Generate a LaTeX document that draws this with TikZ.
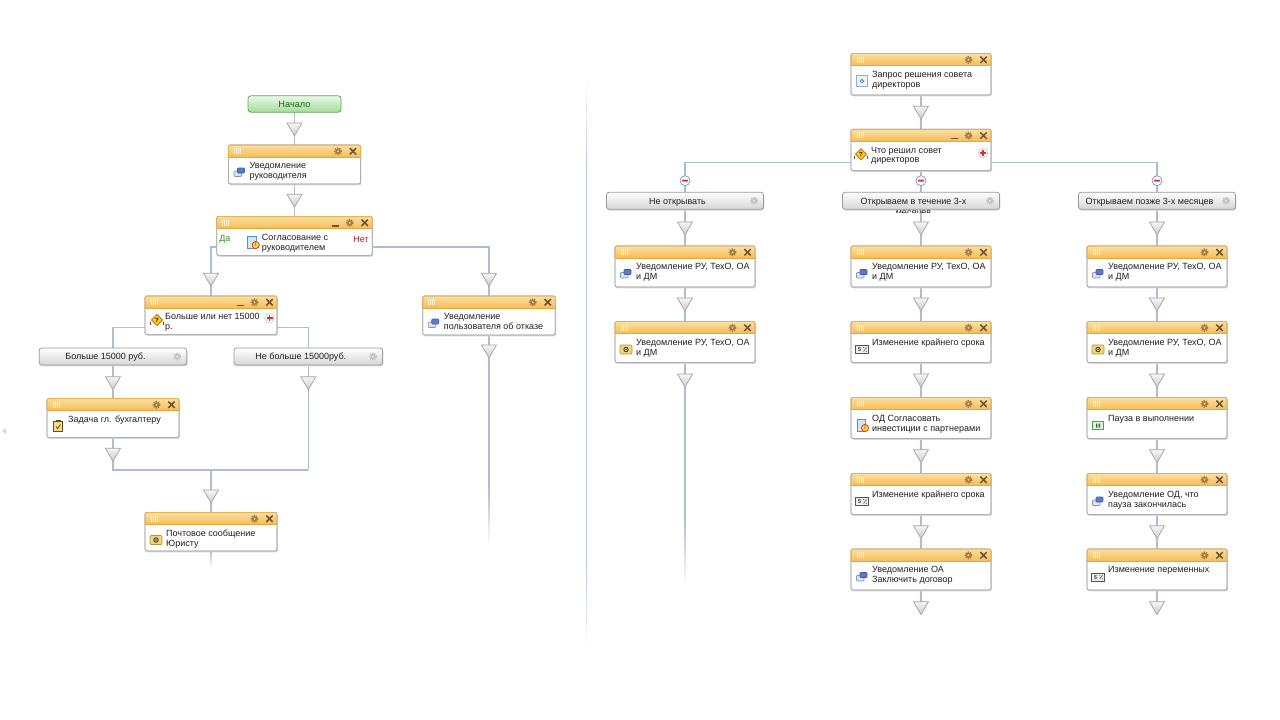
\documentclass[tikz,border=0pt]{standalone}
\usepackage{fontspec}
\setmainfont{Liberation Sans}
\usetikzlibrary{shapes.geometric}
\pgfdeclarelayer{bg}
\pgfsetlayers{bg,main}
\definecolor{conncol}{HTML}{A8BED9}
\definecolor{divcol}{HTML}{B7C7DD}
\definecolor{hdrtop}{HTML}{FCDFA2}
\definecolor{hdrbot}{HTML}{F6BC55}
\definecolor{hdrline}{HTML}{E8A640}
\definecolor{hdroutline}{HTML}{EDB04A}
\definecolor{bodyline}{HTML}{B0B0B0}
\definecolor{shadowc}{HTML}{D8D8D8}
\definecolor{gripc}{HTML}{FFF2D9}
\definecolor{gearhdr}{HTML}{A47A40}
\definecolor{xcol}{HTML}{6B5533}
\definecolor{txtc}{HTML}{202020}
\definecolor{btntop}{HTML}{FEFEFE}
\definecolor{btnbot}{HTML}{D6D6D6}
\definecolor{btnline}{HTML}{9A9A9A}
\definecolor{btngear}{HTML}{C2C2C2}
\definecolor{sttop}{HTML}{EAF8E6}
\definecolor{stbot}{HTML}{A6DB9C}
\definecolor{stline}{HTML}{62A95B}
\definecolor{sttxt}{HTML}{1D6B1D}
\definecolor{tritop}{HTML}{F6F6F6}
\definecolor{tribot}{HTML}{C9C9C9}
\definecolor{triline}{HTML}{A3A3A3}
\definecolor{mline}{HTML}{809FCB}
\definecolor{minusc}{HTML}{D93A3A}
\definecolor{plusfill}{HTML}{F8F8F8}
\definecolor{plusline}{HTML}{C9C9C9}
\definecolor{plusc}{HTML}{E22B2B}
\definecolor{yesc}{HTML}{2E922E}
\definecolor{noc}{HTML}{B02828}
\definecolor{icgrayfill}{HTML}{DDE3EE}
\definecolor{icgrayline}{HTML}{8A96AB}
\definecolor{icblue}{HTML}{5C79CA}
\definecolor{icblueline}{HTML}{3F5BAA}
\definecolor{mailfill}{HTML}{F2D67A}
\definecolor{mailline}{HTML}{B2923A}
\definecolor{maildark}{HTML}{4A4A3A}
\definecolor{taskfill}{HTML}{F4DD86}
\definecolor{taskline}{HTML}{5E4E2A}
\definecolor{decfill}{HTML}{F7D21E}
\definecolor{decline}{HTML}{E0661A}
\definecolor{apfill}{HTML}{D3E6F8}
\definecolor{apline}{HTML}{4C92D2}
\definecolor{apcirc}{HTML}{FFD54D}
\definecolor{apcircline}{HTML}{D8401C}
\definecolor{dolfill}{HTML}{EEEEEE}
\definecolor{dolline}{HTML}{555555}
\definecolor{pausefill}{HTML}{DDF5DD}
\definecolor{pauseline}{HTML}{36B036}
\definecolor{pausedark}{HTML}{2C6E2C}
\definecolor{reqfill}{HTML}{EDF3FC}
\definecolor{reqline}{HTML}{8DAEE0}
\definecolor{reqdot}{HTML}{5C88CF}
\definecolor{artc}{HTML}{CBD9EA}

\tikzset{
  conn/.style={draw=conncol, line width=1.5pt},
  tri/.style={regular polygon, regular polygon sides=3, shape border rotate=180,
    minimum size=17.3pt, inner sep=0pt, outer sep=0pt, draw=triline, line width=0.7pt,
    top color=tritop, bottom color=tribot},
  actbody/.style={draw=bodyline, fill=white, rounded corners=2pt, inner sep=0pt,
    outer sep=0pt, line width=0.8pt},
  acttext/.style={font=\fontsize{9}{9.8}\selectfont, text=txtc, align=left, inner sep=0pt},
  btnbody/.style={draw=btnline, top color=btntop, bottom color=btnbot, rounded corners=2.5pt,
    minimum height=17pt, inner sep=0pt, outer sep=0pt, line width=0.8pt},
  btntext/.style={font=\fontsize{9}{9.8}\selectfont, text=txtc, inner sep=0pt},
  startbtn/.style={draw=stline, top color=sttop, bottom color=stbot, rounded corners=3pt,
    minimum width=93pt, minimum height=16.5pt, inner sep=0pt, outer sep=0pt, line width=0.8pt,
    font=\fontsize{9.2}{10}\selectfont, text=sttxt},
  mcirc/.style={circle, draw=mline, fill=white, minimum size=10pt, inner sep=0pt,
    outer sep=0pt, line width=0.8pt},
  lbl/.style={font=\fontsize{9}{9.8}\selectfont, inner sep=0pt},
}

\newcommand{\Gear}[3]{%
  \fill[#3] (#1,#2) circle (2.7pt);
  \draw[#3, line width=1.4pt, dash pattern=on 1.2pt off 1.1pt] (#1,#2) circle (3.2pt);
  \fill[white, opacity=0.6] (#1,#2) circle (1.1pt);}
\newcommand{\Xmark}[2]{%
  \draw[xcol, line width=1.5pt] (#1-3.2,#2-3.2) -- (#1+3.2,#2+3.2)
    (#1-3.2,#2+3.2) -- (#1+3.2,#2-3.2);}
\newcommand{\Minim}[2]{%
  \draw[xcol, line width=1.5pt] (#1-3.5,#2+3) -- (#1+3.5,#2+3);}
\newcommand{\PlusC}[2]{%
  \filldraw[fill=plusfill, draw=plusline, line width=0.6pt] (#1,#2) circle (4.8pt);
  \draw[plusc, line width=1.3pt] (#1-3,#2) -- (#1+3,#2) (#1,#2-3) -- (#1,#2+3);}

% icons: x, y, box name
\newcommand{\IcNotify}[3]{%
  \filldraw[fill=icgrayfill, draw=icgrayline, line width=0.6pt, rounded corners=0.8pt]
    (#1-5.5,#2-1.5) rectangle (#1+2,#2+4);
  \filldraw[fill=icblue, draw=icblueline, line width=0.6pt, rounded corners=0.8pt]
    (#1-2,#2-4.5) rectangle (#1+5,#2+0.5);}
\newcommand{\IcMail}[3]{%
  \filldraw[fill=mailfill, draw=mailline, line width=0.7pt, rounded corners=1pt]
    (#1-6,#2-4.5) rectangle (#1+6,#2+4.5);
  \draw[maildark, line width=1pt] (#1,#2) circle (2.2pt);
  \fill[maildark] (#1,#2) circle (0.9pt);}
\newcommand{\IcTask}[3]{%
  \filldraw[fill=taskfill, draw=taskline, line width=0.7pt] (#1-4.5,#2-5) rectangle (#1+4.5,#2+5.5);
  \fill[taskline] (#1-2.5,#2-6) rectangle (#1+2.5,#2-4);
  \draw[taskline, line width=0.8pt] (#1-2,#2+0.5) -- (#1-0.5,#2+2.5) -- (#1+2.5,#2-1.5);}
\newcommand{\IcDecide}[3]{%
  \filldraw[fill=decfill, draw=decline, line width=0.8pt]
    (#1,#2-5.5) -- (#1+5.5,#2) -- (#1,#2+5.5) -- (#1-5.5,#2) -- cycle;
  \node[font=\fontsize{6}{6}\selectfont\bfseries, text=black, inner sep=0pt] (#3-q) at (#1,#2) {?};
  \draw[taskline, line width=0.5pt] (#1-6.5,#2+1.5) -- (#1-6.5,#2+5) (#1+6.5,#2+1.5) -- (#1+6.5,#2+5);}
\newcommand{\IcApprove}[3]{%
  \filldraw[fill=apfill, draw=apline, line width=0.7pt] (#1-5,#2-6) rectangle (#1+3.5,#2+5.5);
  \filldraw[fill=apcirc, draw=apcircline, line width=0.8pt] (#1+3,#2+2.5) circle (3.6pt);
  \node[font=\fontsize{5.5}{5.5}\selectfont\bfseries, text=apcircline, inner sep=0pt] (#3-e) at (#1+3,#2+2.5) {!};}
\newcommand{\IcDollar}[3]{%
  \filldraw[fill=dolfill, draw=dolline, line width=0.6pt] (#1-6.5,#2-4) rectangle (#1+6.5,#2+4);
  \node[font=\fontsize{6}{6}\selectfont\bfseries, text=dolline, inner sep=0pt] (#3-d) at (#1-2.5,#2+0.3) {\$};
  \draw[dolline, line width=0.6pt] (#1+1.5,#2+2) -- (#1+4.5,#2-2);
  \fill[dolline] (#1+1.8,#2-1.8) circle (0.6pt) (#1+4.3,#2+1.8) circle (0.6pt);}
\newcommand{\IcPause}[3]{%
  \filldraw[fill=pausefill, draw=pauseline, line width=1.1pt] (#1-5.5,#2-4) rectangle (#1+5.5,#2+4);
  \fill[pausedark] (#1-2,#2-2) rectangle (#1-0.6,#2+2) (#1+0.6,#2-2) rectangle (#1+2,#2+2);}
\newcommand{\IcRequest}[3]{%
  \filldraw[fill=reqfill, draw=reqline, line width=0.7pt] (#1-5.5,#2-5.5) rectangle (#1+5.5,#2+5.5);
  \draw[reqdot, line width=0.8pt] (#1,#2) circle (1.8pt);}

\newcommand{\IcDX}{11}
\newcommand{\IcDY}{27.5}
\newcommand{\TxDX}{21}

% name, cx, top, width, height, icon, text, minimize
\newcommand{\actbox}[8]{%
  \pgfmathsetmacro\Lx{#2-#4/2}%
  \pgfmathsetmacro\Rx{#2+#4/2}%
  \pgfmathsetmacro\Bx{#3+#5}%
  \fill[shadowc, rounded corners=2pt] (\Lx+0.8,#3+1.3) rectangle (\Rx+0.8,\Bx+1.3);
  \node[actbody, minimum width=#4pt, minimum height=#5pt, anchor=north] (#1) at (#2,#3) {};
  \begin{scope}
    \clip[rounded corners=2pt] (\Lx,#3) rectangle (\Rx,\Bx);
    \shade[top color=hdrtop, bottom color=hdrbot] (\Lx,#3) rectangle (\Rx,#3+12);
  \end{scope}
  \draw[hdrline, line width=0.7pt] (\Lx,#3+12) -- (\Rx,#3+12);
  \draw[bodyline, line width=0.8pt, rounded corners=2pt] (\Lx,#3) rectangle (\Rx,\Bx);
  \draw[hdroutline, line width=0.8pt, rounded corners=2pt] (\Lx,#3+12) -- (\Lx,#3) -- (\Rx,#3) -- (\Rx,#3+12);
  \foreach \g in {0,1,2,3} {\draw[gripc, line width=0.6pt] (\Lx+6+2*\g,#3+3) -- (\Lx+6+2*\g,#3+9);}
  \Gear{\Rx-22.5}{#3+6.3}{gearhdr}
  \Xmark{\Rx-7.5}{#3+6.3}
  \ifnum#8=1 \Minim{\Rx-37}{#3+6.3}\fi
  \node[acttext, anchor=north west] (#1-t) at (\Lx+\TxDX,#3+16.8) {\strut #7};
  #6{\Lx+\IcDX}{#3+\IcDY}{#1}%
}

% name, cx, cy, width, text
\newcommand{\btn}[5]{%
  \pgfmathsetmacro\Lx{#2-#4/2}%
  \pgfmathsetmacro\Rx{#2+#4/2}%
  \fill[shadowc, rounded corners=2.5pt] (\Lx+0.8,#3-7.2) rectangle (\Rx+0.8,#3+9.8);
  \node[btnbody, minimum width=#4pt] (#1) at (#2,#3) {};
  \node[btntext, anchor=base] (#1-t) at (#2-7.5,#3+3.3) {#5};
  \Gear{\Rx-9.5}{#3}{btngear}
}

\newcommand{\fadeline}[3]{%
  \shade[top color=conncol, bottom color=white] (#1-0.75,#2) rectangle (#1+0.75,#3);}

\begin{document}
\begin{tikzpicture}[x=1pt,y=-1pt]
\begin{pgfonlayer}{bg}
  \fill[white] (0,0) rectangle (1280,720);
\end{pgfonlayer}
\useasboundingbox (0,0) rectangle (1280,720);

% ---------- divider and edge mark ----------
\shade[top color=white, bottom color=divcol] (586.2,78) rectangle (587.2,170);
\fill[divcol] (586.2,170) rectangle (587.2,560);
\shade[top color=divcol, bottom color=white] (586.2,560) rectangle (587.2,648);
\fill[artc] (2,431) -- (6,428) -- (6,434) -- cycle;

% ---------- left flow ----------
\node[startbtn] (start) at (294.5,104) {Начало};
\node[tri] (t1) at (294.5,127.3) {};
\actbox{b1}{294.5}{145}{132}{39}{\IcNotify}{Уведомление\\руководителя}{0}
\node[tri] (t2) at (294.5,198.5) {};
\renewcommand{\IcDX}{36}\renewcommand{\IcDY}{26}\renewcommand{\TxDX}{45}
\actbox{b2}{294.5}{216.5}{155.5}{39}{\IcApprove}{Согласование с\\руководителем}{1}
\renewcommand{\IcDX}{11}\renewcommand{\IcDY}{27.5}\renewcommand{\TxDX}{21}
\node[lbl, text=yesc] (yes) at (224.8,239.5) {Да};
\node[lbl, text=noc] (no) at (361,239.5) {Нет};

\node[tri] (t3) at (211,277.6) {};
\node[tri] (t4) at (489,277.6) {};
\renewcommand{\IcDX}{12}\renewcommand{\IcDY}{24}\renewcommand{\TxDX}{20}
\actbox{b3}{211}{296}{132}{38.5}{\IcDecide}{Больше или нет 15000\\р.}{1}
\renewcommand{\IcDX}{11}\renewcommand{\IcDY}{27.5}\renewcommand{\TxDX}{21}
\PlusC{269.5}{318}
\actbox{b4}{489}{296}{132.5}{39}{\IcNotify}{Уведомление\\пользователя об отказе}{0}
\node[tri] (t9) at (489,349.3) {};
\coordinate (fadeA) at (489,490);

\btn{c1}{113}{356.5}{147.5}{Больше 15000 руб.}
\btn{c2}{308.3}{356.5}{148.5}{Не больше 15000руб.}
\node[tri] (t5) at (113,381) {};
\node[tri] (t6) at (308.3,381) {};
\actbox{b5}{113}{398.5}{132}{39}{\IcTask}{Задача гл. бухгалтеру}{0}
\node[tri] (t7) at (113,452.6) {};
\coordinate (mR) at (308.3,470);
\coordinate (mM) at (211,470);
\node[tri] (t8) at (211,494.3) {};
\actbox{b6}{211}{512.5}{132}{38.5}{\IcMail}{Почтовое сообщение\\Юристу}{0}
\coordinate (b6f) at (211,551);

% ---------- right flow ----------
\actbox{r0}{921}{53.5}{140}{41.5}{\IcRequest}{Запрос решения совета\\директоров}{0}
\node[tri] (rt0) at (921,110.5) {};
\renewcommand{\IcDX}{10}\renewcommand{\IcDY}{25}\renewcommand{\TxDX}{20}
\actbox{r1}{921}{129.3}{140}{41.3}{\IcDecide}{Что решил совет\\директоров}{1}
\renewcommand{\IcDX}{11}\renewcommand{\IcDY}{28}\renewcommand{\TxDX}{21}
\PlusC{983}{153}

\node[mcirc] (m1) at (685,180.7) {};
\node[mcirc] (m2) at (921,180.7) {};
\node[mcirc] (m3) at (1157,180.7) {};
\foreach \m in {m1,m2,m3} {\fill[minusc, rounded corners=0.6pt] ([xshift=-3pt,yshift=-1pt]\m.center) rectangle ([xshift=3pt,yshift=1pt]\m.center);}

\btn{d1}{685}{200.8}{157}{Не открывать}
\btn{d2}{921}{200.8}{157}{Открываем в течение 3-х}
\begin{scope}
  \clip (843,210) rectangle (999,212.6);
  \node[btntext, anchor=base] (d2-t2) at (913.5,215.8) {месяцев};
\end{scope}
\btn{d3}{1157}{200.8}{157}{Открываем позже 3-х месяцев}

% column A
\node[tri] (ta1) at (685,226.3) {};
\actbox{A1}{685}{246}{140}{41}{\IcNotify}{Уведомление РУ, ТехО, ОА\\и ДМ}{0}
\node[tri] (ta2) at (685,302.4) {};
\actbox{A2}{685}{321.5}{140}{41}{\IcMail}{Уведомление РУ, ТехО, ОА\\и ДМ}{0}
\node[tri] (ta3) at (685,378.4) {};
\coordinate (fadeB) at (685,520);

% column B
\node[tri] (tb1) at (921,226.3) {};
\actbox{B1}{921}{246}{140}{41}{\IcNotify}{Уведомление РУ, ТехО, ОА\\и ДМ}{0}
\node[tri] (tb2) at (921,302.4) {};
\actbox{B2}{921}{321.5}{140}{41}{\IcDollar}{Изменение крайнего срока}{0}
\node[tri] (tb3) at (921,378.4) {};
\actbox{B3}{921}{397.5}{140}{41}{\IcApprove}{ОД Согласовать\\инвестиции с партнерами}{0}
\node[tri] (tb4) at (921,454) {};
\actbox{B4}{921}{473.5}{140}{41}{\IcDollar}{Изменение крайнего срока}{0}
\node[tri] (tb5) at (921,530) {};
\actbox{B5}{921}{549}{140}{41}{\IcNotify}{Уведомление ОА\\Заключить договор}{0}
\node[tri] (tb6) at (921,606) {};

% column C
\node[tri] (tc1) at (1157,226.3) {};
\actbox{C1}{1157}{246}{140}{41}{\IcNotify}{Уведомление РУ, ТехО, ОА\\и ДМ}{0}
\node[tri] (tc2) at (1157,302.4) {};
\actbox{C2}{1157}{321.5}{140}{41}{\IcMail}{Уведомление РУ, ТехО, ОА\\и ДМ}{0}
\node[tri] (tc3) at (1157,378.4) {};
\actbox{C3}{1157}{397.5}{140}{41}{\IcPause}{Пауза в выполнении}{0}
\node[tri] (tc4) at (1157,454) {};
\actbox{C4}{1157}{473.5}{140}{41}{\IcNotify}{Уведомление ОД, что\\пауза закончилась}{0}
\node[tri] (tc5) at (1157,530) {};
\actbox{C5}{1157}{549}{140}{41}{\IcDollar}{Изменение переменных}{0}
\node[tri] (tc6) at (1157,606) {};

% ---------- connectors ----------
\begin{pgfonlayer}{bg}
  \draw[conn] (start) -- (t1) -- (b1) -- (t2) -- (b2);
  \draw[conn] ([yshift=-11pt]b2.west) -| (t3);
  \draw[conn] (t3) -- (b3);
  \draw[conn] ([yshift=-11pt]b2.east) -| (t4);
  \draw[conn] (t4) -- (b4) -- (t9) -- (fadeA);
  \fadeline{489}{490}{545}
  \draw[conn] ([yshift=-12pt]b3.west) -| (c1);
  \draw[conn] (c1) -- (t5) -- (b5) -- (t7);
  \draw[conn] (t7) |- (mR);
  \draw[conn] ([yshift=-12pt]b3.east) -| (c2);
  \draw[conn] (c2) -- (t6) -- (mR);
  \draw[conn] (mM) -- (t8) -- (b6);
  \fadeline{211}{551}{567}

  \draw[conn] (r0) -- (rt0) -- (r1);
  \draw[conn] ([yshift=-12.5pt]r1.west) -| (m1);
  \draw[conn] (m1) -- (d1);
  \draw[conn] (r1) -- (m2) -- (d2);
  \draw[conn] ([yshift=-12.5pt]r1.east) -| (m3);
  \draw[conn] (m3) -- (d3);
  \draw[conn] (d1) -- (ta1) -- (A1) -- (ta2) -- (A2) -- (ta3) -- (fadeB);
  \fadeline{685}{520}{585}
  \draw[conn] (d2) -- (tb1) -- (B1) -- (tb2) -- (B2) -- (tb3) -- (B3) -- (tb4) -- (B4) -- (tb5) -- (B5) -- (tb6);
  \draw[conn] (d3) -- (tc1) -- (C1) -- (tc2) -- (C2) -- (tc3) -- (C3) -- (tc4) -- (C4) -- (tc5) -- (C5) -- (tc6);
\end{pgfonlayer}
\end{tikzpicture}
\end{document}
